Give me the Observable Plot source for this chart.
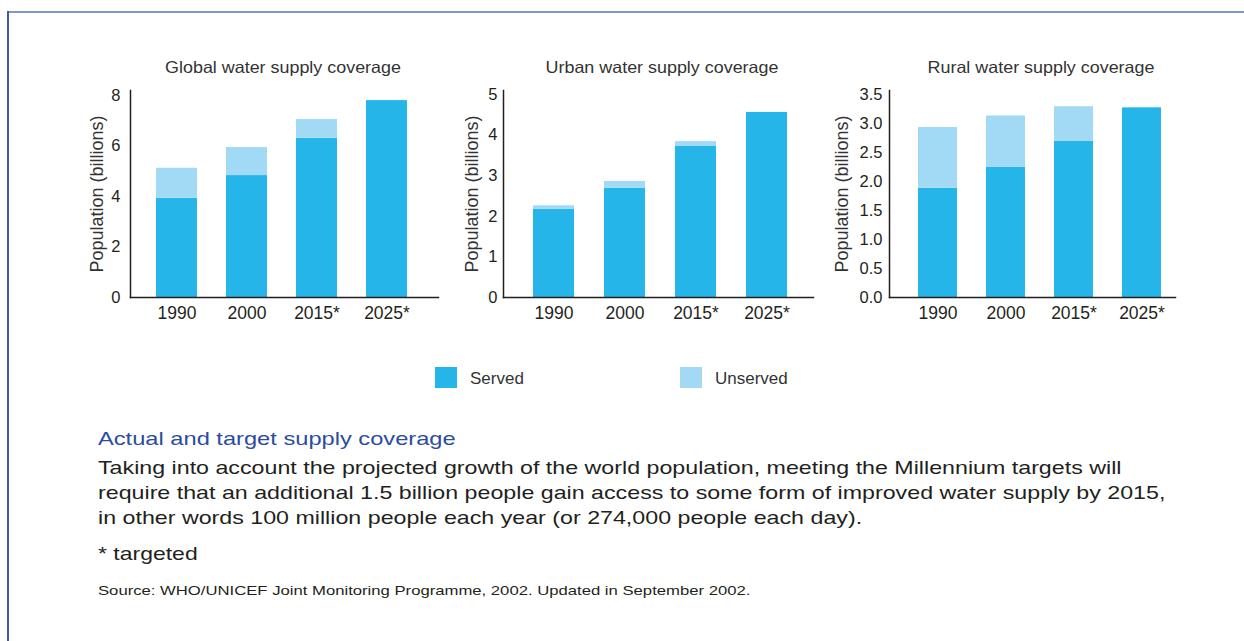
<!DOCTYPE html>
<html>
<head>
<meta charset="utf-8">
<script src="https://cdn.jsdelivr.net/npm/d3@7"></script>
<script src="https://cdn.jsdelivr.net/npm/@observablehq/plot@0.6"></script>
<style>
  html, body { margin: 0; padding: 0; background: #fff; }
  body { width: 1244px; height: 641px; position: relative; overflow: hidden; font-family: "Liberation Sans", Arial, sans-serif; color: #231f20; }
  .abs { position: absolute; }
  .title { font-size: 16.5px; color: #333; white-space: nowrap; transform: translateX(-50%) scaleX(1.085); }
  .frame-top { left: 7px; top: 11px; width: 1237px; height: 2px; background: #8196cc; }
  .frame-left { left: 7px; top: 11px; width: 1.5px; height: 630px; background: #3e57a6; }
  .sw { width: 22px; height: 21px; }
  .lg { font-size: 17px; color: #333; }
  .sx { transform-origin: 0 0; white-space: nowrap; }
  .cap-h { left: 98px; top: 428px; font-size: 19px; color: #2b4c9f; transform: scaleX(1.245); }
  .cap-b { left: 98px; top: 455px; font-size: 19px; line-height: 25px; color: #231f20; transform: scaleX(1.222); }
  .cap-t { left: 98px; top: 543px; font-size: 19px; color: #231f20; transform: scaleX(1.21); }
  .cap-s { left: 98px; top: 583px; font-size: 13.5px; color: #231f20; transform: scaleX(1.235); }
</style>
</head>
<body>
<div class="abs frame-top"></div>
<div class="abs frame-left"></div>
<div id="c0" class="abs" style="left:80px; top:60px;"></div>
<div id="c1" class="abs" style="left:455px; top:60px;"></div>
<div id="c2" class="abs" style="left:825px; top:60px;"></div>
<div class="abs title" style="left:283px; top:58px;">Global water supply coverage</div>
<div class="abs title" style="left:662px; top:58px;">Urban water supply coverage</div>
<div class="abs title" style="left:1041px; top:58px;">Rural water supply coverage</div>

<div class="abs sw" style="left:435px; top:367px; background:#26b5e8;"></div>
<div class="abs lg" style="left:470px; top:369px;">Served</div>
<div class="abs sw" style="left:680px; top:367px; background:#a2daf6;"></div>
<div class="abs lg" style="left:715px; top:369px;">Unserved</div>

<div class="abs sx cap-h">Actual and target supply coverage</div>
<div class="abs sx cap-b">Taking into account the projected growth of the world population, meeting the Millennium targets will<br>require that an additional 1.5 billion people gain access to some form of improved water supply by 2015,<br>in other words 100 million people each year (or 274,000 people each day).</div>
<div class="abs sx cap-t">* targeted</div>
<div class="abs sx cap-s">Source: WHO/UNICEF Joint Monitoring Programme, 2002. Updated in September 2002.</div>

<script>
// ---- data (billions) ----
const years = ["1990", "2000", "2015*", "2025*"];
const statuses = ["Served", "Unserved"];
const colors = ["#26b5e8", "#a2daf6"];

const globalServed   = [3.93, 4.83, 6.31, 7.80];
const globalUnserved = [1.19, 1.11, 0.74, 0.00];
const globalTicks    = [0, 2, 4, 6, 8];

const urbanServed    = [2.17, 2.69, 3.72, 4.56];
const urbanUnserved  = [0.09, 0.17, 0.12, 0.00];
const urbanTicks     = [0, 1, 2, 3, 4, 5];

const ruralServed    = [1.89, 2.25, 2.70, 3.28];
const ruralUnserved  = [1.05, 0.89, 0.60, 0.00];
const ruralTicks     = [0, 0.5, 1, 1.5, 2, 2.5, 3, 3.5];

const yLabel = "Population (billions)";

function rows(served, unserved) {
  return years.flatMap((y, i) => [
    {year: y, status: statuses[0], value: served[i]},
    {year: y, status: statuses[1], value: unserved[i]}
  ]);
}

function chart(el, cfg) {
  const ink = "#231f20";
  const p = Plot.plot({
    width: cfg.width, height: 270,
    marginLeft: cfg.marginLeft, marginRight: 2, marginTop: 30, marginBottom: 33,
    style: {fontFamily: "Liberation Sans, Arial, sans-serif", color: ink, background: "white", overflow: "visible"},
    x: {domain: years, paddingInner: cfg.pi, paddingOuter: cfg.po, align: cfg.align},
    y: {domain: [0, cfg.ymax]},
    color: {domain: statuses, range: colors},
    marks: [
      Plot.barY(rows(cfg.served, cfg.unserved), {x: "year", y: "value", fill: "status"}),
      Plot.frame({anchor: "left", stroke: ink, strokeWidth: 1.5}),
      Plot.frame({anchor: "bottom", stroke: ink, strokeWidth: 1.5}),
      Plot.axisX({tickSize: 0, tickPadding: 9, fontSize: 17.5, label: null}),
      Plot.axisY({ticks: cfg.ticks, tickSize: 0, tickPadding: cfg.tp, fontSize: 16.5,
        tickFormat: cfg.fmt, label: null}),
      Plot.text([yLabel], {text: d => d, frameAnchor: "left", textAnchor: "middle",
        lineAnchor: "middle", rotate: -90, dx: -cfg.lo, fontSize: 18, fill: "#333"})
    ]
  });
  document.getElementById(el).appendChild(p);
}

chart("c0", {served: globalServed, unserved: globalUnserved, ticks: globalTicks, ymax: 8.2,
  width: 360, marginLeft: 50, pi: 0.42, po: 0.38, align: 0.46, tp: 10, lo: 33, fmt: d3.format("d")});
chart("c1", {served: urbanServed, unserved: urbanUnserved, ticks: urbanTicks, ymax: 5.1,
  width: 360, marginLeft: 48, pi: 0.428, po: 0.376, align: 0.54, tp: 6, lo: 31, fmt: d3.format("d")});
chart("c2", {served: ruralServed, unserved: ruralUnserved, ticks: ruralTicks, ymax: 3.58,
  width: 352, marginLeft: 64, pi: 0.42, po: 0.283, align: 0.67, tp: 7, lo: 47, fmt: d3.format(".1f")});
</script>
</body>
</html>
